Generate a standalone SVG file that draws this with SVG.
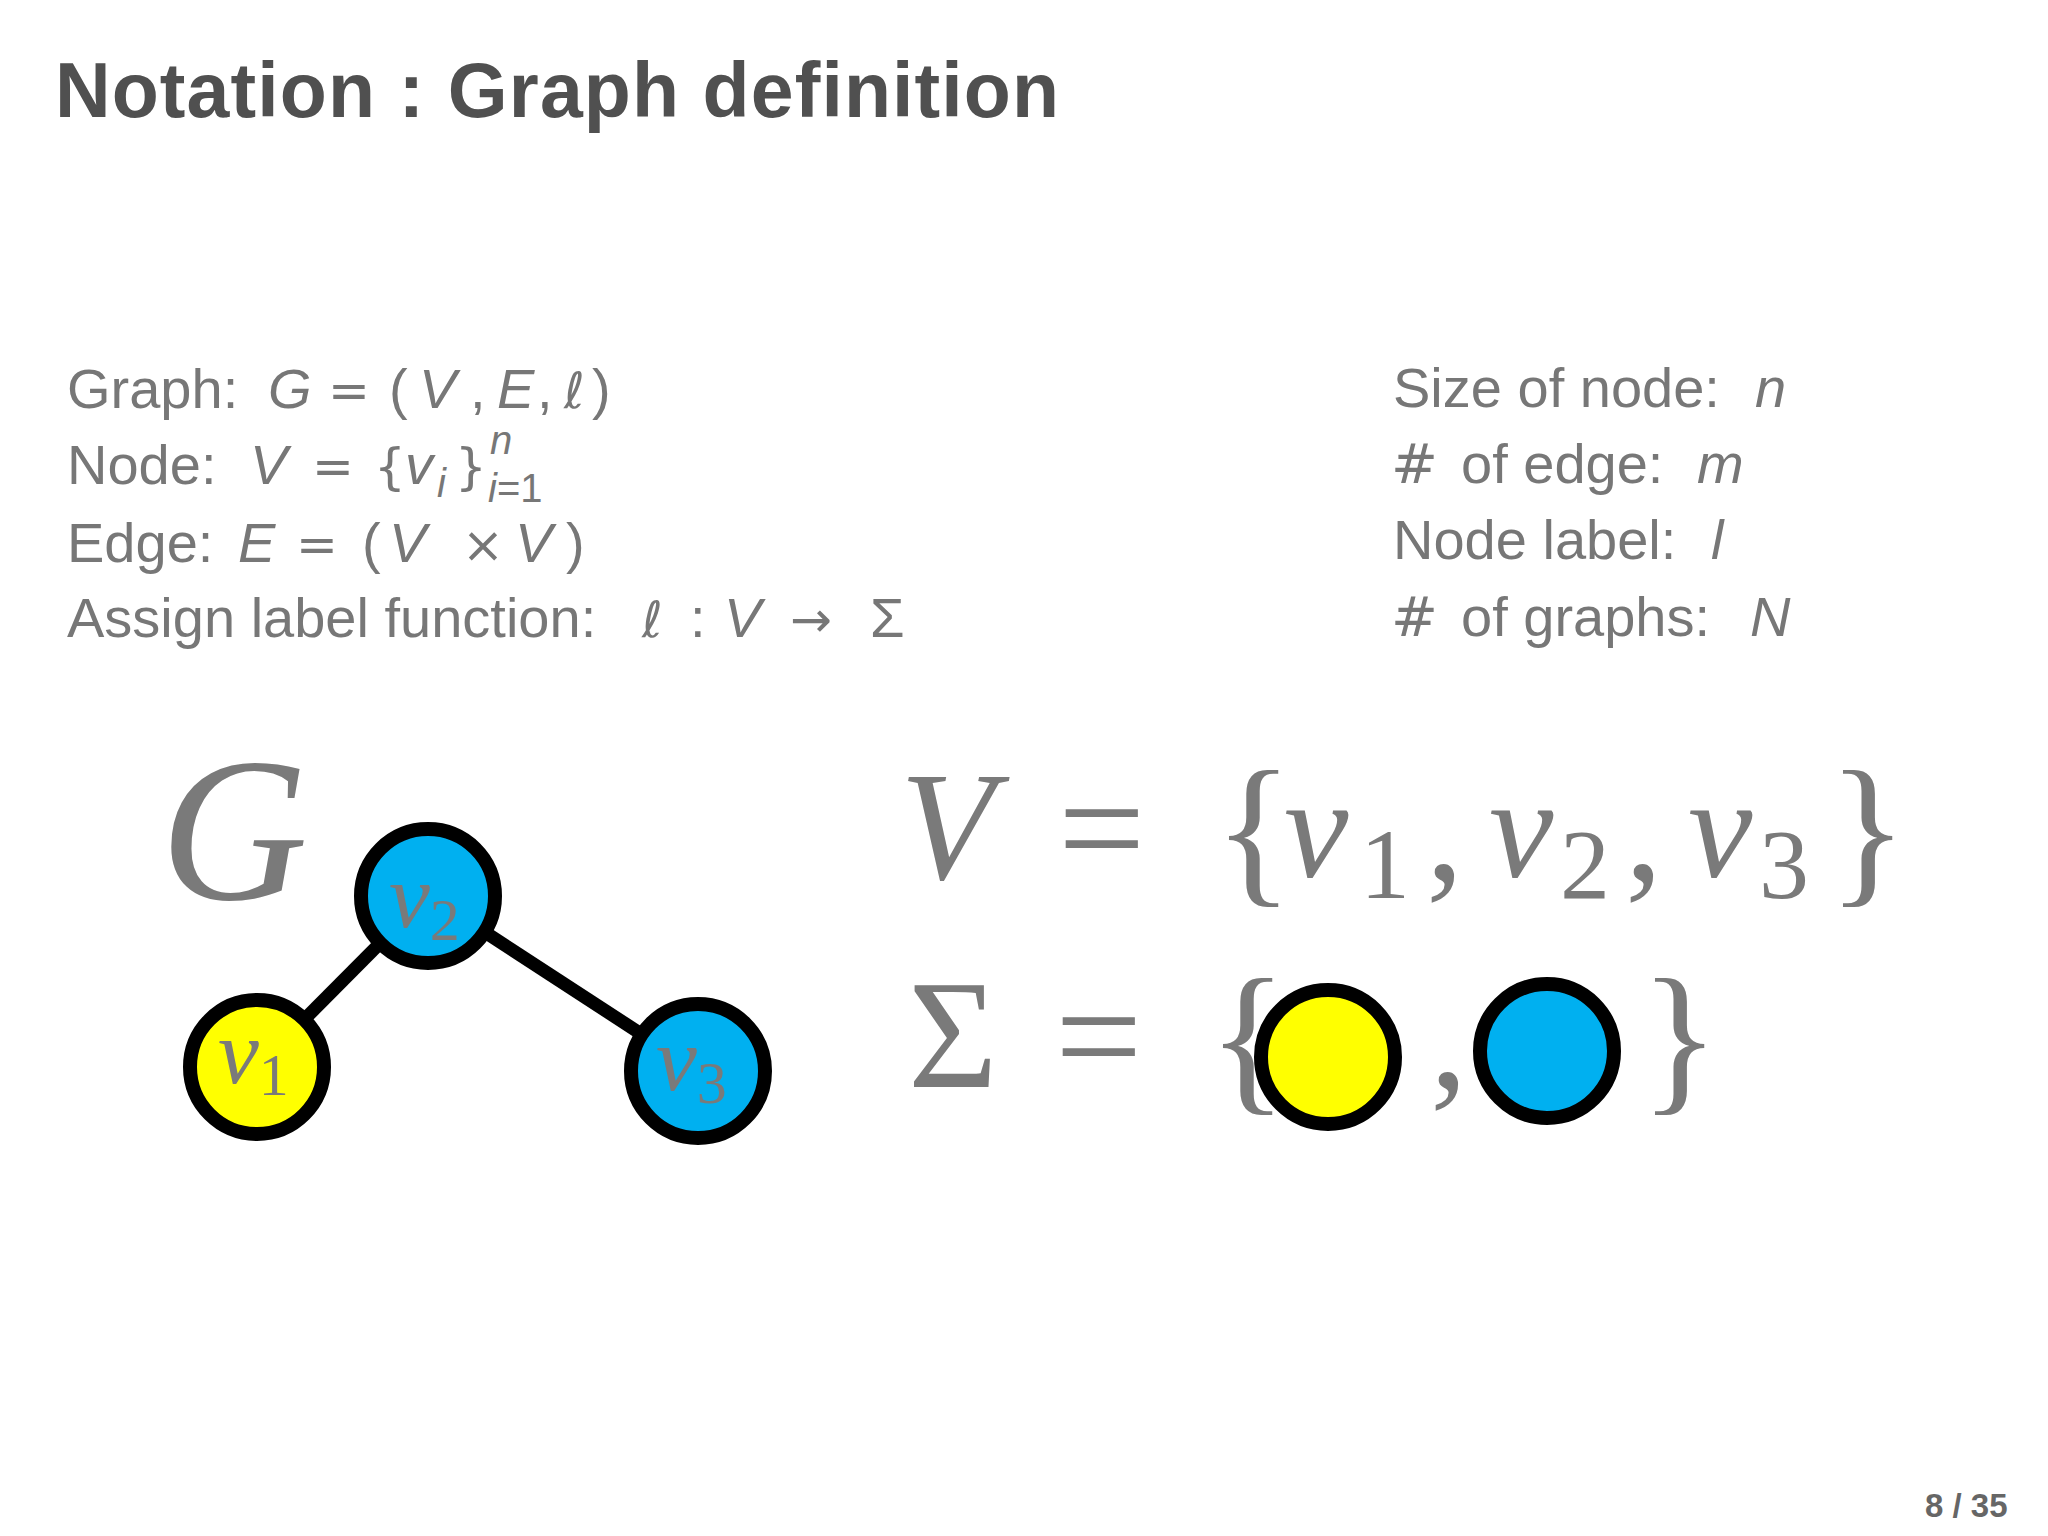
<svg xmlns="http://www.w3.org/2000/svg" width="2048" height="1536" viewBox="0 0 2048 1536">
<style>
.title{font-family:"Liberation Sans",Arial,sans-serif;font-weight:bold;font-size:77px;fill:#505050}
.body{font-family:"Liberation Sans",Arial,sans-serif;font-size:56px;fill:#777777}
.it{font-style:italic}
.sub{font-size:40px}
.sym{font-family:"DejaVu Sans",sans-serif;font-size:50px;fill:#777777}
.hash{font-family:"DejaVu Sans",sans-serif;font-size:56px;fill:#777777}
.big{font-family:"Liberation Serif","Times New Roman",serif;fill:#7a7a7a}
.node{stroke:#000;stroke-width:14}
.yellow{fill:#ffff00}
.blue{fill:#00b0f0}
.edge{stroke:#000;stroke-width:13;fill:none}
.page{font-family:"Liberation Sans",Arial,sans-serif;font-weight:bold;font-size:33px;fill:#666666}
</style>
<rect width="2048" height="1536" fill="#ffffff"/>

<text class="title" x="55" y="117" textLength="1004">Notation : Graph definition</text>

<g id="left-defs">
  <text class="body" x="67" y="408">Graph:</text>
  <text class="body it" x="268" y="408">G</text>
  <text class="sym" x="328" y="408" textLength="44">=</text>
  <text class="body" x="389" y="408">(</text>
  <text class="body it" x="419" y="408">V</text>
  <text class="body" x="470" y="408">,</text>
  <text class="body it" x="497" y="408">E</text>
  <text class="body" x="537" y="408">,</text>
  <text class="sym it" x="564" y="408">ℓ</text>
  <text class="body" x="592" y="408">)</text>

  <text class="body" x="67" y="484">Node:</text>
  <text class="body it" x="250" y="484">V</text>
  <text class="sym" x="312" y="484" textLength="44">=</text>
  <text class="sym" x="374" y="484">{</text>
  <text class="body it" x="405" y="484">v</text>
  <text class="body it sub" x="437" y="497">i</text>
  <text class="sym" x="455" y="484">}</text>
  <text class="body it sub" x="490" y="454">n</text>
  <text class="body sub" x="488" y="502"><tspan class="it">i</tspan>=1</text>

  <text class="body" x="67" y="562">Edge:</text>
  <text class="body it" x="238" y="562">E</text>
  <text class="sym" x="296" y="562" textLength="44">=</text>
  <text class="body" x="362" y="562">(</text>
  <text class="body it" x="389" y="562">V</text>
  <text class="sym" x="462" y="562">×</text>
  <text class="body it" x="515" y="562">V</text>
  <text class="body" x="566" y="562">)</text>

  <text class="body" x="67" y="637">Assign label function:</text>
  <text class="sym it" x="642" y="637">ℓ</text>
  <text class="body" x="690" y="637">:</text>
  <text class="body it" x="724" y="637">V</text>
  <text class="sym" x="790" y="637" textLength="56">→</text>
  <text class="body" x="870" y="637">Σ</text>
</g>

<g id="right-defs">
  <text class="body" x="1393" y="407">Size of node:<tspan class="it" x="1755">n</tspan></text>
  <text class="hash" x="1391" y="483">#</text>
  <text class="body" x="1461" y="483">of edge:<tspan class="it" x="1697">m</tspan></text>
  <text class="body" x="1393" y="559">Node label:<tspan class="it" x="1711">l</tspan></text>
  <text class="hash" x="1391" y="636">#</text>
  <text class="body" x="1461" y="636">of graphs:<tspan class="it" x="1750">N</tspan></text>
</g>

<text class="big it" x="160" y="899" font-size="205">G</text>

<g id="edges">
  <line class="edge" x1="257" y1="1067" x2="428" y2="895"/>
  <line class="edge" x1="428" y1="895" x2="698" y2="1071"/>
</g>

<g id="node-v1">
  <circle class="node yellow" cx="257" cy="1067" r="67"/>
  <text class="big" x="218" y="1083" font-size="92"><tspan font-style="italic">v</tspan><tspan font-size="60" y="1095">1</tspan></text>
</g>
<g id="node-v2">
  <circle class="node blue" cx="428" cy="896" r="67"/>
  <text class="big" x="389" y="927" font-size="92"><tspan font-style="italic">v</tspan><tspan font-size="60" y="940">2</tspan></text>
</g>
<g id="node-v3">
  <circle class="node blue" cx="698" cy="1071" r="67"/>
  <text class="big" x="656" y="1090" font-size="92"><tspan font-style="italic">v</tspan><tspan font-size="60" y="1103">3</tspan></text>
</g>

<g id="vertex-set">
  <text class="big it" x="900" y="879" font-size="155">V</text>
  <text class="big" x="1058" y="880" font-size="155" textLength="100">=</text>
  <text class="big" x="1214" y="885" font-size="165">{</text>
  <text class="big it" x="1284" y="877" font-size="145">v</text>
  <text class="big" x="1360" y="898" font-size="100">1</text>
  <text class="big" x="1426" y="880" font-size="150">,</text>
  <text class="big it" x="1489" y="877" font-size="145">v</text>
  <text class="big" x="1560" y="898" font-size="100">2</text>
  <text class="big" x="1625" y="880" font-size="150">,</text>
  <text class="big it" x="1688" y="877" font-size="145">v</text>
  <text class="big" x="1759" y="898" font-size="100">3</text>
  <text class="big" x="1828" y="885" font-size="165">}</text>
</g>

<g id="label-set">
  <text class="big" x="908" y="1087" font-size="154">Σ</text>
  <text class="big" x="1055" y="1088" font-size="155" textLength="100">=</text>
  <text class="big" x="1208" y="1093" font-size="165">{</text>
  <circle class="node yellow" cx="1328" cy="1057" r="67"/>
  <text class="big" x="1430" y="1088" font-size="150">,</text>
  <circle class="node blue" cx="1547" cy="1051" r="67"/>
  <text class="big" x="1640" y="1093" font-size="165">}</text>
</g>

<text class="page" x="1925" y="1517">8 / 35</text>
</svg>
